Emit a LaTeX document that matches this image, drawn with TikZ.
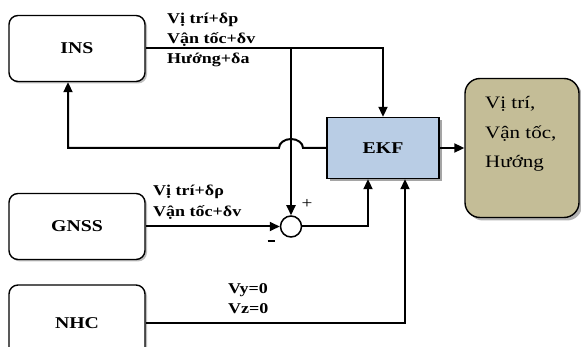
\documentclass[tikz,border=0pt]{standalone}
\usepackage{fontspec}
\setmainfont{Liberation Serif}[FakeStretch=1.2]
\usetikzlibrary{arrows.meta,shadows}
\definecolor{ekfblue}{HTML}{B9CDE5}
\definecolor{outtan}{HTML}{C4BD97}
\begin{document}
\begin{tikzpicture}[x=1pt,y=-1pt,
  blk/.style={draw,line width=1.4pt,rounded corners=9pt,minimum width=136pt,minimum height=66pt,fill=white,
    drop shadow={shadow xshift=2pt,shadow yshift=-2pt,opacity=0.5},
    font=\fontsize{16.5}{18}\selectfont\bfseries},
  lbl/.style={anchor=base west,inner sep=0pt,font=\fontsize{15}{16}\selectfont\bfseries},
  otxt/.style={anchor=base west,inner sep=0pt,font=\fontsize{17.5}{20}\selectfont},
  conn/.style={line width=2pt},
  arr/.style={conn,-{Triangle[length=10pt,width=9pt]}},
]
\useasboundingbox (0,0) rectangle (581,347);
\clip (0,0) rectangle (581,347);
\fill[white] (0,0) rectangle (581,347);

% blocks
\node[blk] (ins) at (77,48.5) {INS};
\node[blk] (gnss) at (77,226.5) {GNSS};
\node[blk,minimum height=76pt] (nhc) at (77,323) {NHC};
\node[draw,line width=1.4pt,fill=ekfblue,minimum width=112pt,minimum height=61pt,
  drop shadow={shadow xshift=3pt,shadow yshift=-3pt,opacity=0.7},
  font=\fontsize{16.5}{18}\selectfont\bfseries] (ekf) at (383,148) {EKF};
\node[draw,line width=1.4pt,fill=outtan,rounded corners=15pt,minimum width=114pt,minimum height=139pt,
  drop shadow={shadow xshift=3pt,shadow yshift=-3pt,opacity=0.6}] (out) at (522,148) {};
\node[otxt] (o1) at (485,109) {Vị trí,};
\node[otxt] (o2) at (485,138.5) {Vận tốc,};
\node[otxt] (o3) at (485,167.5) {Hướng};

% summing junction
\node[draw,circle,line width=1.5pt,minimum size=21pt,inner sep=0pt,fill=white] (sum) at (291,226.5) {};
\node[font=\fontsize{16}{16}\selectfont,inner sep=0pt] (plus) at (307,204) {+};
\node[inner sep=0pt] (minus) at (271,241) {\rule{7pt}{1.5pt}};

% labels
\node[lbl] (l1) at (167,24) {Vị trí+δp};
\node[lbl] (l2) at (167,44) {Vận tốc+δv};
\node[lbl] (l3) at (167,63.5) {Hướng+δa};
\node[lbl] (g1) at (153,196) {Vị trí+δρ};
\node[lbl] (g2) at (153,216.5) {Vận tốc+δv};
\node[lbl] (n1) at (228,293.5) {Vy=0};
\node[lbl] (n2) at (228,313) {Vz=0};

% connectors
\coordinate (j) at (291,48.5);
\coordinate (fb) at (68,148);
\draw[arr] (ins.east) -| (ekf.north);
\draw[arr] (j) -- (sum.north);
\draw[arr] (ekf.west) -- (303,148) arc[start angle=0,end angle=180,x radius=12pt,y radius=9pt] -- (fb) -- (fb |- ins.south);
\draw[arr] (gnss.east) -- (sum.west);
\draw[arr] (sum.east) -| ([xshift=-15pt]ekf.south);
\draw[arr] (nhc.east) -| ([xshift=22pt]ekf.south);
\draw[arr] (ekf.east) -- (out.west);
\end{tikzpicture}
\end{document}
